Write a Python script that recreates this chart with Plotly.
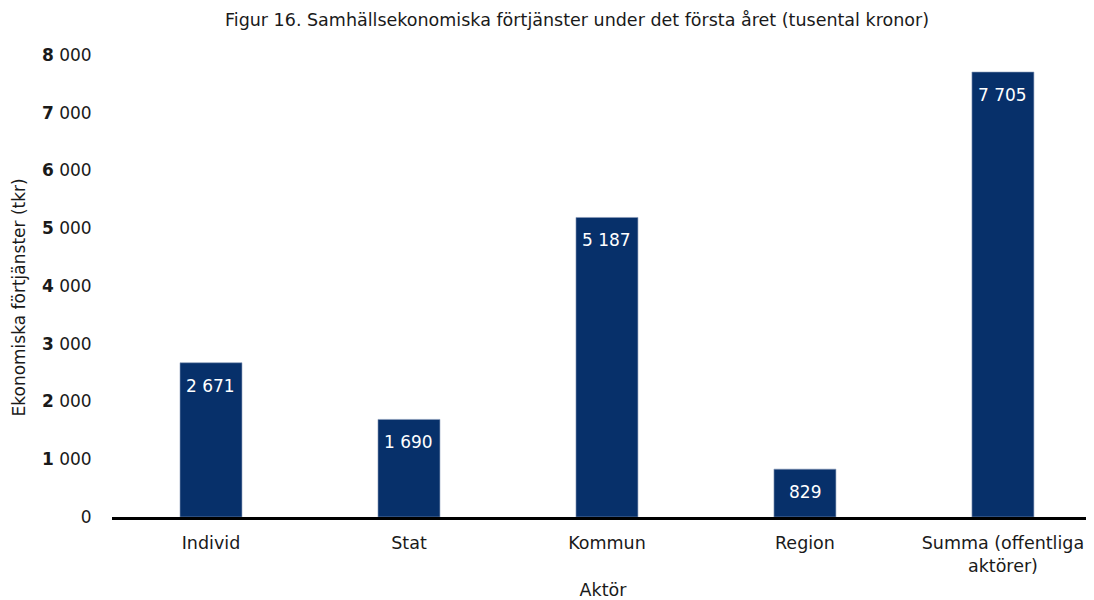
import plotly.graph_objects as go

categories = ["Individ", "Stat", "Kommun", "Region", "Summa (offentliga<br>aktörer)"]
values = [2671, 1690, 5187, 829, 7705]
value_labels = ["2 671", "1 690", "5 187", "829", "7 705"]
tick_vals = [0, 1000, 2000, 3000, 4000, 5000, 6000, 7000, 8000]
tick_text = ["0", "<b>1</b> 000", "<b>2</b> 000", "<b>3</b> 000", "<b>4</b> 000",
             "<b>5</b> 000", "<b>6</b> 000", "<b>7</b> 000", "<b>8</b> 000"]

FONT = "DejaVu Sans"
BAR = "#07306A"
TXT = "#1a1a1a"
OFF = 8  # browser default body margin

fig = go.Figure()
fig.add_trace(go.Bar(
    x=list(range(len(categories))),
    y=values,
    width=0.313,
    marker=dict(color=BAR, line=dict(color="#8A9BB8", width=0.6)),
    textposition="none",
    hoverinfo="skip",
))

for i, (v, lab) in enumerate(zip(values, value_labels)):
    fig.add_annotation(x=i, y=v, text=lab, showarrow=False, yshift=-23,
                       font=dict(color="white", size=17, family=FONT))

# y-axis title as annotation for exact placement
fig.add_annotation(xref="paper", yref="paper", x=0, y=1 - (297.5 - 55) / 462,
                   xanchor="center", yanchor="middle",
                   xshift=-(112 - 18), text="Ekonomiska förtjänster (tkr)",
                   textangle=-90, showarrow=False,
                   font=dict(size=17, family=FONT, color=TXT))

fig.update_layout(
    width=1094 - OFF, height=600 - OFF,
    margin=dict(l=112 - OFF, r=0, t=55 - OFF, b=83, autoexpand=False),
    paper_bgcolor="white", plot_bgcolor="white",
    showlegend=False,
    font=dict(family=FONT, color=TXT, size=17),
    title=dict(text="Figur 16. Samhällsekonomiska förtjänster under det första året (tusental kronor)",
               x=(577 - OFF) / (1094 - OFF), xanchor="center",
               y=1 - (20 - OFF) / (600 - OFF), yanchor="middle",
               font=dict(size=17.5, family=FONT, color=TXT)),
    xaxis=dict(
        tickmode="array", tickvals=list(range(len(categories))), ticktext=categories,
        range=[-0.5, 4.46], showgrid=False, zeroline=False,
        showline=True, linecolor="black", linewidth=3,
        ticks="outside", ticklen=8, tickcolor="rgba(0,0,0,0)", tickfont=dict(size=17.5),
        title=dict(text="Aktör", font=dict(size=17.5), standoff=16),
    ),
    yaxis=dict(
        range=[0, 8000], tickmode="array", tickvals=tick_vals, ticktext=tick_text,
        showgrid=False, zeroline=False, showline=False,
        ticks="outside", ticklen=16, tickcolor="rgba(0,0,0,0)",
        tickfont=dict(size=17),
    ),
)

fig.write_html("out.html")
